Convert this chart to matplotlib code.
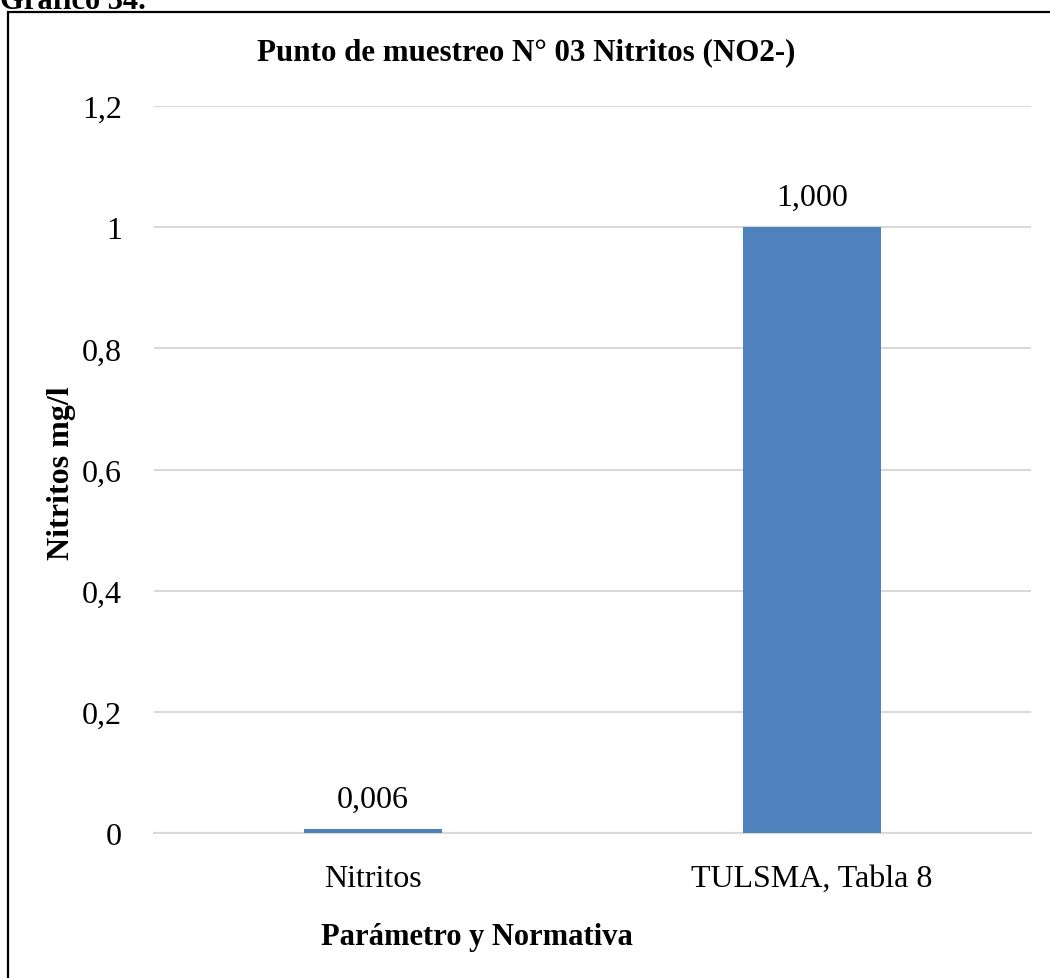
import matplotlib.pyplot as plt
from matplotlib.patches import Rectangle

categories = ["Nitritos", "TULSMA, Tabla 8"]
values = [0.006, 1.000]
value_labels = ["0,006", "1,000"]
yticks = [0, 0.2, 0.4, 0.6, 0.8, 1.0, 1.2]
ytick_labels = ["0", "0,2", "0,4", "0,6", "0,8", "1", "1,2"]

plt.rcParams["font.family"] = ["Liberation Serif", "DejaVu Serif"]
W, H = 1050, 979
fig = plt.figure(figsize=(W / 100, H / 100), dpi=100)

# outer frame (right and bottom edges lie outside the picture)
fig.patches.append(
    Rectangle((8 / W, -0.1), 1.2, 1.1 - 13 / H, transform=fig.transFigure,
              fill=False, edgecolor="black", linewidth=1.6)
)
fig.text(0.0, 1 - 9 / H, "Gráfico 34.", fontsize=22, fontweight="bold",
         ha="left", va="baseline")

ax = fig.add_axes([154 / W, 1 - 834 / H, (1031 - 154) / W, (834 - 107) / H])
x = range(len(categories))
bars = ax.bar(x, values, width=0.314, color="#4f81bd", zorder=3)
for b, lab in zip(bars, value_labels):
    ax.text(b.get_x() + b.get_width() / 2, b.get_height() + 0.025, lab,
            ha="center", va="bottom", fontsize=23)

ax.set_xlim(-0.5, 1.5)
ax.set_ylim(0, 1.2)
ax.set_yticks(yticks)
ax.set_yticklabels(ytick_labels)
ax.set_xticks(list(x))
ax.set_xticklabels(categories)
ax.tick_params(axis="both", length=0, labelsize=23)
ax.tick_params(axis="y", pad=23)
ax.tick_params(axis="x", pad=22)
ax.grid(axis="y", color="#d9d9d9", linewidth=1.5, zorder=0)
for s in ["top", "right", "left"]:
    ax.spines[s].set_visible(False)
ax.spines["bottom"].set_color("#d9d9d9")
ax.spines["bottom"].set_linewidth(1.5)

fig.text(526 / W, 1 - 53 / H, "Punto de muestreo N° 03 Nitritos (NO2-)",
         fontsize=22.3, fontweight="bold", ha="center", va="center")
fig.text(477 / W, 1 - 938 / H, "Parámetro y Normativa",
         fontsize=22, fontweight="bold", ha="center", va="center")
fig.text(62 / W, 1 - 473 / H, "Nitritos mg/l", rotation=90,
         fontsize=23, fontweight="bold", ha="center", va="center")

fig.savefig("out.png", dpi=100)
